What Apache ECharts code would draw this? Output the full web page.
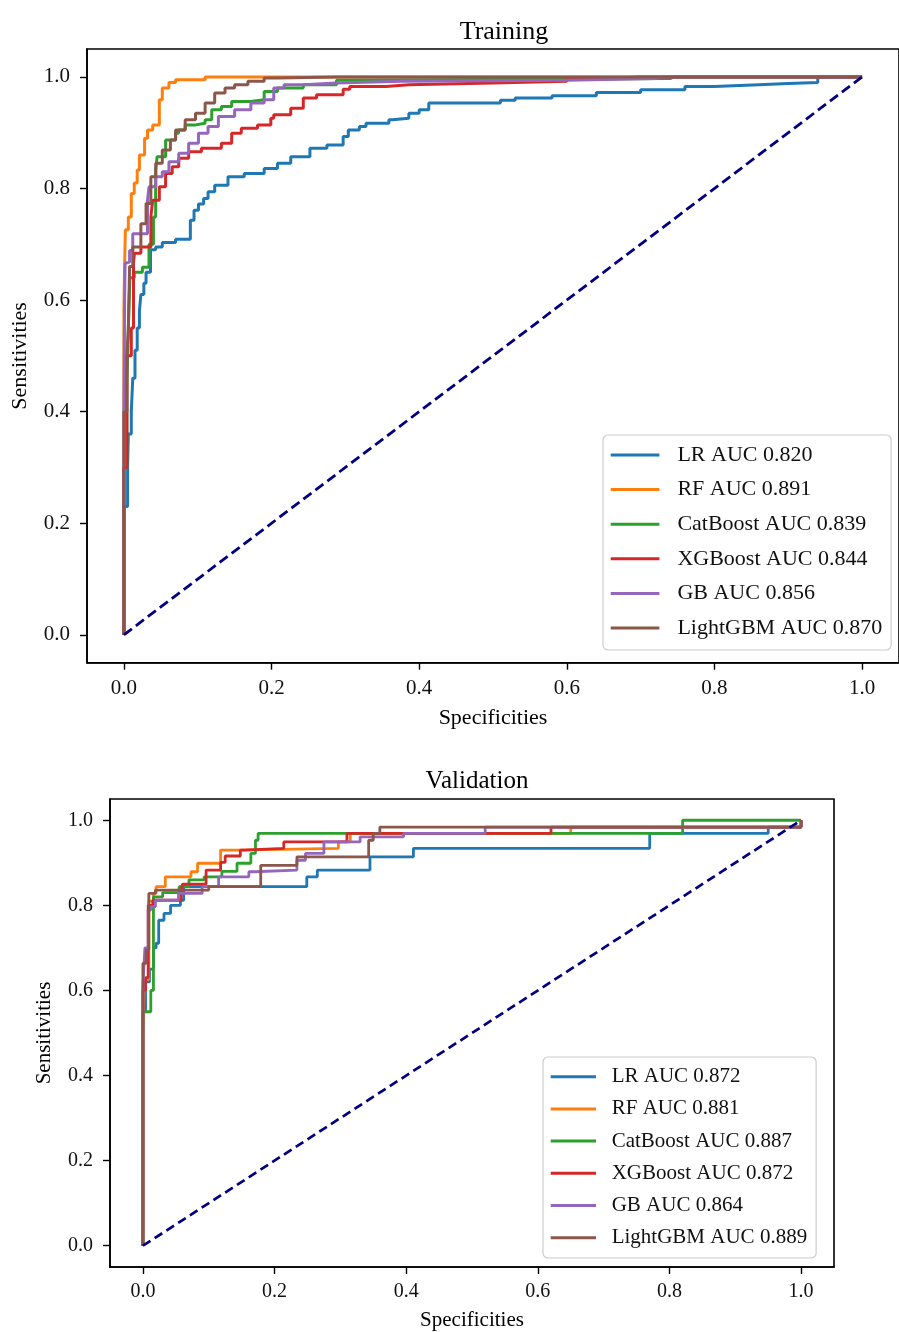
<!DOCTYPE html>
<html>
<head>
<meta charset="utf-8">
<script src="https://cdn.jsdelivr.net/npm/echarts@6/dist/echarts.min.js"></script>
<style>html,body{margin:0;padding:0;background:#fff;}#c{width:899px;height:1332px;}</style>
</head>
<body>
<div id="c"></div>
<script>
// ---------- data ----------
const tickValues = [0, 0.2, 0.4, 0.6, 0.8, 1.0];
const modelNames = ['LR', 'RF', 'CatBoost', 'XGBoost', 'GB', 'LightGBM'];
const trainAUC = ['0.820', '0.891', '0.839', '0.844', '0.856', '0.870'];
const validAUC = ['0.872', '0.881', '0.887', '0.872', '0.864', '0.889'];
const colors = ['#1f77b4', '#ff7f0e', '#2ca02c', '#d62728', '#9467bd', '#8c564b'];
const diagonal = [[0, 0], [1, 1]];

// points: [fpr, tpr] (right end of each horizontal run)
const trainLR = [[0,0],[0.005,0.23],[0.006,0.30],[0.010,0.36],[0.012,0.40],[0.015,0.46],[0.018,0.51],[0.021,0.55],[0.023,0.58],[0.027,0.61],[0.030,0.63],[0.036,0.65],[0.043,0.69],[0.052,0.695],[0.070,0.703],[0.090,0.709],[0.095,0.743],[0.101,0.761],[0.108,0.772],[0.114,0.782],[0.123,0.794],[0.141,0.806],[0.163,0.821],[0.190,0.827],[0.208,0.836],[0.226,0.845],[0.252,0.857],[0.275,0.872],[0.297,0.878],[0.304,0.893],[0.319,0.905],[0.328,0.911],[0.359,0.917],[0.364,0.923],[0.386,0.926],[0.400,0.935],[0.413,0.941],[0.444,0.953],[0.51,0.953],[0.53,0.958],[0.58,0.962],[0.64,0.966],[0.70,0.972],[0.76,0.977],[0.80,0.983],[0.86,0.986],[0.90,0.988],[0.94,0.990],[1,1]];
const trainRF = [[0,0],[0,0.45],[0.001,0.58],[0.002,0.666],[0.006,0.726],[0.010,0.749],[0.014,0.791],[0.018,0.81],[0.021,0.833],[0.028,0.860],[0.032,0.890],[0.039,0.905],[0.048,0.914],[0.052,0.959],[0.061,0.980],[0.070,0.990],[0.110,0.995],[0.150,1.0],[1,1]];
const trainCat = [[0,0],[0.004,0.30],[0.006,0.45],[0.008,0.55],[0.014,0.64],[0.025,0.65],[0.034,0.659],[0.040,0.70],[0.043,0.749],[0.045,0.833],[0.0565,0.857],[0.070,0.887],[0.074,0.899],[0.083,0.905],[0.097,0.914],[0.110,0.917],[0.119,0.923],[0.132,0.941],[0.146,0.947],[0.172,0.956],[0.190,0.959],[0.208,0.974],[0.243,0.980],[0.288,0.986],[0.297,0.994],[0.74,0.997],[0.745,1.0],[1,1]];
const trainXGB = [[0,0],[0.004,0.30],[0.010,0.50],[0.013,0.55],[0.0143,0.666],[0.023,0.684],[0.0365,0.695],[0.039,0.749],[0.048,0.779],[0.0565,0.803],[0.0654,0.827],[0.0743,0.839],[0.0877,0.854],[0.105,0.866],[0.132,0.872],[0.146,0.881],[0.159,0.899],[0.181,0.908],[0.199,0.914],[0.203,0.926],[0.226,0.932],[0.243,0.944],[0.261,0.962],[0.297,0.968],[0.306,0.978],[0.355,0.983],[0.386,0.986],[0.50,0.989],[0.60,0.992],[0.65,0.997],[0.70,1.0],[1,1]];
const trainGB = [[0,0],[0.001,0.40],[0.0016,0.605],[0.002,0.666],[0.0077,0.668],[0.012,0.689],[0.032,0.719],[0.034,0.779],[0.0432,0.803],[0.052,0.821],[0.061,0.830],[0.0743,0.848],[0.0877,0.863],[0.101,0.881],[0.114,0.899],[0.128,0.911],[0.150,0.929],[0.172,0.941],[0.190,0.953],[0.203,0.959],[0.217,0.980],[0.243,0.986],[0.288,0.989],[0.377,0.992],[0.60,0.994],[0.72,0.997],[0.73,1.0],[1,1]];
const trainLGBM = [[0,0],[0.004,0.40],[0.006,0.50],[0.0077,0.546],[0.012,0.66],[0.023,0.695],[0.030,0.737],[0.0365,0.773],[0.0432,0.821],[0.052,0.845],[0.063,0.869],[0.070,0.887],[0.083,0.905],[0.097,0.923],[0.110,0.935],[0.123,0.953],[0.137,0.971],[0.150,0.980],[0.168,0.986],[0.190,0.992],[0.208,0.998],[0.288,1.0],[1,1]];

const validLR = [[0,0],[0.004,0.55],[0.010,0.62],[0.016,0.65],[0.020,0.70],[0.024,0.711],[0.032,0.765],[0.042,0.781],[0.057,0.800],[0.062,0.812],[0.249,0.844],[0.265,0.867],[0.345,0.883],[0.411,0.914],[0.452,0.934],[0.77,0.934],[0.95,0.969],[1,0.984],[1,1]];
const validRF = [[0,0],[0.002,0.49],[0.009,0.626],[0.016,0.81],[0.020,0.828],[0.034,0.844],[0.073,0.867],[0.083,0.879],[0.118,0.899],[0.143,0.930],[0.297,0.934],[0.315,0.949],[0.65,0.969],[1,0.984],[1,1]];
const validCat = [[0,0],[0.012,0.55],[0.016,0.60],[0.03,0.82],[0.055,0.83],[0.07,0.844],[0.093,0.86],[0.12,0.867],[0.143,0.88],[0.164,0.899],[0.171,0.922],[0.175,0.953],[0.82,0.969],[1,1]];
const validXGB = [[0,0],[0.004,0.60],[0.008,0.63],[0.015,0.80],[0.058,0.812],[0.06,0.83],[0.096,0.85],[0.118,0.883],[0.125,0.901],[0.148,0.916],[0.153,0.93],[0.214,0.934],[0.31,0.949],[0.62,0.969],[1,0.984],[1,1]];
const validGB = [[0,0],[0.003,0.61],[0.008,0.70],[0.012,0.789],[0.019,0.797],[0.054,0.812],[0.09,0.828],[0.115,0.844],[0.161,0.867],[0.169,0.879],[0.234,0.883],[0.247,0.906],[0.275,0.922],[0.33,0.949],[0.396,0.961],[0.52,0.969],[1,0.984],[1,1]];
const validLGBM = [[0,0],[0.005,0.664],[0.009,0.695],[0.019,0.828],[0.10,0.836],[0.179,0.844],[0.234,0.894],[0.343,0.914],[0.35,0.953],[0.36,0.969],[1,0.984],[1,1]];

const trainSets = [trainLR, trainRF, trainCat, trainXGB, trainGB, trainLGBM];
const validSets = [validLR, validRF, validCat, validXGB, validGB, validLGBM];

// ---------- chart ----------
const FONT = '"Liberation Serif", "Times New Roman", serif';
const chart = echarts.init(document.getElementById('c'), null, {renderer: 'canvas'});

function axisCfg(gridIndex, fs, labelMargin, nameGap, name) {
  return {
    type: 'value', gridIndex, min: -0.05, max: 1.05,
    name, nameLocation: 'middle', nameGap,
    nameTextStyle: {fontFamily: FONT, fontSize: fs + 1, color: '#000'},
    axisLine: {show: true, onZero: false, lineStyle: {color: '#000', width: 1.6}},
    axisTick: {show: true, inside: false, length: 7, customValues: tickValues, lineStyle: {color: '#000', width: 1.4}},
    axisLabel: {customValues: tickValues, margin: labelMargin, fontFamily: FONT, fontSize: fs, color: '#111',
      formatter: v => v.toFixed(1)},
    splitLine: {show: false}
  };
}

const series = [];
trainSets.forEach((d, i) => {
  series.push({
    name: modelNames[i] + ' AUC ' + trainAUC[i], type: 'line', xAxisIndex: 0, yAxisIndex: 0,
    data: d, step: 'start', showSymbol: false, symbol: 'none', animation: false,
    lineStyle: {color: colors[i], width: 3}, itemStyle: {color: colors[i]}, z: 2 + i
  });
});
series.push({type: 'line', xAxisIndex: 0, yAxisIndex: 0, data: diagonal, showSymbol: false, symbol: 'none',
  animation: false, lineStyle: {color: '#000080', width: 2.8, type: [10, 5]}, z: 10});
validSets.forEach((d, i) => {
  series.push({
    name: modelNames[i] + ' AUC ' + validAUC[i], type: 'line', xAxisIndex: 1, yAxisIndex: 1,
    data: d, step: 'start', showSymbol: false, symbol: 'none', animation: false,
    lineStyle: {color: colors[i], width: 2.8}, itemStyle: {color: colors[i]}, z: 2 + i
  });
});
series.push({type: 'line', xAxisIndex: 1, yAxisIndex: 1, data: diagonal, showSymbol: false, symbol: 'none',
  animation: false, lineStyle: {color: '#000080', width: 2.7, type: [9, 5]}, z: 10});

chart.setOption({
  animation: false,
  backgroundColor: '#fff',
  title: [
    {text: 'Training', left: 499, top: 14, textAlign: 'center',
      textStyle: {fontFamily: FONT, fontSize: 26, fontWeight: 'normal', color: '#000'}},
    {text: 'Validation', left: 472, top: 764, textAlign: 'center',
      textStyle: {fontFamily: FONT, fontSize: 25, fontWeight: 'normal', color: '#000'}}
  ],
  grid: [
    {left: 87, top: 49, width: 823.8, height: 613.7, show: true, borderColor: '#000', borderWidth: 1.6, backgroundColor: 'transparent'},
    {left: 110, top: 799, width: 724, height: 469, show: true, borderColor: '#000', borderWidth: 1.6, backgroundColor: 'transparent'}
  ],
  xAxis: [axisCfg(0, 21, 15, 45, 'Specificities'), axisCfg(1, 20, 15, 43, 'Specificities')],
  yAxis: [axisCfg(0, 21, 17, 56, 'Sensitivities'), axisCfg(1, 20, 17, 55, 'Sensitivities')],
  legend: [
    {
      orient: 'vertical', left: 603, top: 435,
      data: modelNames.map((m, i) => m + ' AUC ' + trainAUC[i]),
      icon: 'rect', itemWidth: 48.7, itemHeight: 3, itemGap: 8.6,
      padding: [7, 9, 9, 7.7],
      backgroundColor: 'rgba(255,255,255,0.8)', borderColor: '#cccccc', borderWidth: 1.2, borderRadius: 5,
      textStyle: {fontFamily: FONT, fontSize: 22, color: '#111', lineHeight: 26, padding: [0, 0, 0, 13]},
      selectedMode: false
    },
    {
      orient: 'vertical', left: 543, top: 1057,
      data: modelNames.map((m, i) => m + ' AUC ' + validAUC[i]),
      icon: 'rect', itemWidth: 45.3, itemHeight: 3, itemGap: 8.2,
      padding: [7.7, 9, 8.3, 7.7],
      backgroundColor: 'rgba(255,255,255,0.8)', borderColor: '#cccccc', borderWidth: 1.2, borderRadius: 5,
      textStyle: {fontFamily: FONT, fontSize: 21, color: '#111', lineHeight: 24, padding: [0, 0, 0, 10.7]},
      selectedMode: false
    }
  ],
  series
});
</script>
</body>
</html>
